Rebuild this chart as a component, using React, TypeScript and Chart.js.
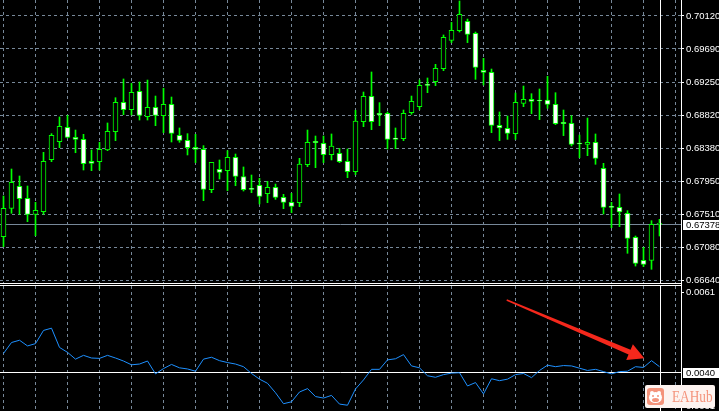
import React, { useEffect, useRef } from "react";
import { Chart, registerables } from "chart.js";

Chart.register(...registerables);

// ---------- Candles (one entry per bar) ----------
const openP = [
  0.67211, 0.67585, 0.67875, 0.67716, 0.67506, 0.67541, 0.68226, 0.68463, 0.68652, 0.68521,
  0.68494, 0.68204, 0.68200, 0.68354, 0.68595, 0.68982, 0.68885, 0.69127, 0.68793, 0.68916,
  0.68806, 0.68956, 0.68547, 0.68481, 0.68389, 0.68362, 0.67831, 0.68099, 0.68081, 0.68257,
  0.68002, 0.67835, 0.67888, 0.67778, 0.67862, 0.67730, 0.67664, 0.67659, 0.68160, 0.68468,
  0.68442, 0.68292, 0.68310, 0.68204, 0.68068, 0.68727, 0.69061, 0.68837, 0.68837, 0.68512,
  0.68503, 0.68846, 0.68925, 0.69206, 0.69254, 0.69426, 0.69799, 0.69927, 0.70050, 0.69892,
  0.69404, 0.69377, 0.68679, 0.68639, 0.68569, 0.68969, 0.69021, 0.69000, 0.69013, 0.68956,
  0.68718, 0.68705, 0.68433, 0.68428, 0.68455, 0.68112, 0.67598, 0.67598, 0.67519, 0.67202,
  0.66899, 0.66899, 0.67374,
];
const highP = [
  0.67747, 0.68103, 0.68011, 0.67879, 0.67664, 0.68323, 0.68569, 0.68789, 0.68811, 0.68617,
  0.68560, 0.68354, 0.68455, 0.68710, 0.69043, 0.69290, 0.69232, 0.69250, 0.69276, 0.69065,
  0.69167, 0.69052, 0.68644, 0.68569, 0.68560, 0.68411, 0.68191, 0.68222, 0.68345, 0.68301,
  0.68130, 0.68024, 0.67980, 0.67941, 0.67905, 0.67769, 0.67782, 0.68244, 0.68617, 0.68538,
  0.68538, 0.68565, 0.68376, 0.68367, 0.68877, 0.69118, 0.69382, 0.68978, 0.68855, 0.68644,
  0.68881, 0.69065, 0.69276, 0.69303, 0.69483, 0.69870, 0.70036, 0.70318, 0.70080, 0.69909,
  0.69562, 0.69421, 0.68855, 0.68802, 0.69105, 0.69197, 0.69096, 0.69158, 0.69325, 0.69109,
  0.68881, 0.68806, 0.68551, 0.68775, 0.68565, 0.68178, 0.67664, 0.67774, 0.67554, 0.67220,
  0.67071, 0.67422, 0.67440,
];
const lowP = [
  0.67079, 0.67519, 0.67506, 0.67409, 0.67224, 0.67506, 0.68200, 0.68384, 0.68512, 0.68318,
  0.68090, 0.68081, 0.68090, 0.68345, 0.68477, 0.68819, 0.68815, 0.68749, 0.68749, 0.68674,
  0.68582, 0.68459, 0.68455, 0.68288, 0.68187, 0.67686, 0.67791, 0.67971, 0.67818, 0.67883,
  0.67813, 0.67791, 0.67642, 0.67659, 0.67703, 0.67580, 0.67528, 0.67607, 0.68134, 0.68121,
  0.68187, 0.68222, 0.68187, 0.67989, 0.68028, 0.68661, 0.68622, 0.68674, 0.68367, 0.68371,
  0.68477, 0.68824, 0.68890, 0.69109, 0.69202, 0.69399, 0.69769, 0.69909, 0.69769, 0.69285,
  0.69210, 0.68582, 0.68477, 0.68494, 0.68494, 0.68925, 0.68833, 0.68754, 0.68903, 0.68688,
  0.68543, 0.68406, 0.68252, 0.68279, 0.68165, 0.67510, 0.67330, 0.67343, 0.66992, 0.66824,
  0.66816, 0.66781, 0.67220,
];
const closeP = [
  0.67585, 0.67927, 0.67712, 0.67506, 0.67558, 0.68204, 0.68547, 0.68666, 0.68521, 0.68494,
  0.68173, 0.68178, 0.68362, 0.68600, 0.68982, 0.68885, 0.69114, 0.68811, 0.68916, 0.68811,
  0.68956, 0.68573, 0.68481, 0.68384, 0.68362, 0.67835, 0.68191, 0.68059, 0.68257, 0.68006,
  0.67831, 0.67835, 0.67743, 0.67862, 0.67730, 0.67664, 0.67611, 0.68169, 0.68455, 0.68450,
  0.68292, 0.68406, 0.68200, 0.68068, 0.68736, 0.69061, 0.68727, 0.68815, 0.68494, 0.68494,
  0.68837, 0.68995, 0.69206, 0.69206, 0.69430, 0.69839, 0.69931, 0.70142, 0.69878, 0.69443,
  0.69377, 0.68679, 0.68644, 0.68573, 0.68982, 0.69021, 0.68995, 0.69000, 0.68956, 0.68701,
  0.68701, 0.68428, 0.68433, 0.68455, 0.68244, 0.67598, 0.67598, 0.67536, 0.67189, 0.66860,
  0.66846, 0.67374, 0.67378,
];

// ---------- Indicator sub-window ----------
const indicator = [
  0.00449, 0.00478, 0.00484, 0.00469, 0.00475, 0.00510, 0.00516, 0.00465, 0.00452, 0.00434,
  0.00444, 0.00437, 0.00436, 0.00444, 0.00437, 0.00429, 0.00419, 0.00421, 0.00429, 0.00395,
  0.00409, 0.00420, 0.00411, 0.00408, 0.00402, 0.00434, 0.00439, 0.00430, 0.00425, 0.00421,
  0.00414, 0.00396, 0.00381, 0.00370, 0.00345, 0.00316, 0.00321, 0.00347, 0.00356, 0.00335,
  0.00331, 0.00338, 0.00315, 0.00312, 0.00355, 0.00379, 0.00407, 0.00407, 0.00432, 0.00435,
  0.00446, 0.00416, 0.00411, 0.00390, 0.00386, 0.00393, 0.00397, 0.00398, 0.00363, 0.00372,
  0.00342, 0.00382, 0.00377, 0.00381, 0.00393, 0.00396, 0.00385, 0.00404, 0.00418, 0.00414,
  0.00417, 0.00416, 0.00410, 0.00404, 0.00407, 0.00401, 0.00395, 0.00401, 0.00402, 0.00414,
  0.00412, 0.00430, 0.00414,
];

// ---------- Axes / ticks ----------
const priceTickValues = [0.7012, 0.69685, 0.6925, 0.68815, 0.6838, 0.67945, 0.6751, 0.67075, 0.6664];
const priceTickLabels = ["0.70120", "0.69690", "0.69250", "0.68820", "0.68380", "0.67950", "0.67510", "0.67080", "0.66640"];
const indTickValues = [0.0061, 0.0031];
const indTickLabels = ["0.0061", "0.0031"];
const gridBars = [0, 4, 8, 12, 16, 20, 24, 28, 32, 36, 40, 44, 48, 52, 56, 60, 64, 68, 72, 76, 80, 84];

const bidPrice = 0.67378;
const bidLabel = "0.67378";
const levelValue = 0.004;
const levelLabel = "0.0040";
const markerBar = 82.1;
const arrowTail = [62.9, 0.005905];
const arrowTip = [80.1, 0.004362];

const X_MIN = -0.4375;
const X_MAX = 84.6875;
const PRICE_MIN = 0.665873;
const PRICE_MAX = 0.703309;
const IND_MIN = 0.002967;
const IND_MAX = 0.006276;

const GRID_COLOR = "#778899";
const GREEN = "#00ff00";
const FONT_FAMILY = '"Liberation Sans", Arial, sans-serif';
const LABEL_SIZE = 9.5;

function xAxis(): any {
  return {
    type: "linear",
    position: "bottom",
    min: X_MIN,
    max: X_MAX,
    offset: false,
    afterBuildTicks: (s: any) => {
      s.ticks = gridBars.map((v) => ({ value: v }));
    },
    afterFit: (s: any) => {
      s.height = 0;
      s.paddingLeft = 0;
      s.paddingRight = 0;
    },
    ticks: { display: false },
    grid: { color: GRID_COLOR, lineWidth: 1, drawTicks: false, offset: false },
    border: { display: false, dash: [3, 3] },
  };
}

function yAxis(min: number, max: number, values: number[], labels: string[], onArea: boolean): any {
  return {
    type: "linear",
    position: "right",
    min,
    max,
    beginAtZero: false,
    afterBuildTicks: (s: any) => {
      s.ticks = values.map((v) => ({ value: v }));
    },
    afterFit: (s: any) => {
      s.width = 38;
      s.paddingTop = 0;
      s.paddingBottom = 0;
    },
    ticks: {
      color: "#ffffff",
      font: { family: FONT_FAMILY, size: LABEL_SIZE },
      padding: 2,
      autoSkip: false,
      crossAlign: "near",
      callback: (_v: any, i: number) => labels[i],
    },
    grid: {
      color: GRID_COLOR,
      lineWidth: 1,
      drawOnChartArea: onArea,
      drawTicks: true,
      tickLength: 3,
      tickColor: "#ffffff",
      tickBorderDash: [],
    },
    border: { display: false, dash: [3, 3] },
  };
}

function drawValueBox(chart: any, value: number, text: string) {
  const { ctx, chartArea } = chart;
  const y = Math.round(chart.scales.y.getPixelForValue(value));
  ctx.save();
  ctx.fillStyle = "#ffffff";
  ctx.fillRect(chartArea.right + 2, y - 4, chart.width - chartArea.right - 2, 10);
  ctx.fillStyle = "#000000";
  ctx.font = `${LABEL_SIZE}px ${FONT_FAMILY}`;
  ctx.textBaseline = "middle";
  ctx.textAlign = "left";
  ctx.fillText(text, chartArea.right + 5, y + 1);
  ctx.restore();
}

function drawMarker(chart: any) {
  const { ctx, chartArea } = chart;
  const x = Math.floor(chart.scales.x.getPixelForValue(markerBar)) + 0.5;
  ctx.save();
  ctx.strokeStyle = "#ffffff";
  ctx.lineWidth = 1;
  ctx.beginPath();
  ctx.moveTo(x, chartArea.top);
  ctx.lineTo(x, chartArea.bottom);
  ctx.stroke();
  ctx.restore();
}

function hLine(chart: any, value: number, color: string) {
  const { ctx, chartArea } = chart;
  const y = Math.round(chart.scales.y.getPixelForValue(value)) + 0.5;
  ctx.save();
  ctx.strokeStyle = color;
  ctx.lineWidth = 1;
  ctx.beginPath();
  ctx.moveTo(chartArea.left, y);
  ctx.lineTo(chartArea.right, y);
  ctx.stroke();
  ctx.restore();
}

const mainDecor = {
  id: "mainDecor",
  beforeDatasetsDraw(chart: any) {
    hLine(chart, bidPrice, GRID_COLOR);
  },
  afterDatasetsDraw(chart: any) {
    drawMarker(chart);
  },
  afterDraw(chart: any) {
    drawValueBox(chart, bidPrice, bidLabel);
  },
};

const subDecor = {
  id: "subDecor",
  beforeDatasetsDraw(chart: any) {
    hLine(chart, levelValue, "#ffffff");
  },
  afterDatasetsDraw(chart: any) {
    drawMarker(chart);
  },
  afterDraw(chart: any) {
    drawValueBox(chart, levelValue, levelLabel);
    const { ctx } = chart;
    const xs = chart.scales.x;
    const ys = chart.scales.y;
    const x0 = xs.getPixelForValue(arrowTail[0]);
    const y0 = ys.getPixelForValue(arrowTail[1]);
    const x1 = xs.getPixelForValue(arrowTip[0]);
    const y1 = ys.getPixelForValue(arrowTip[1]);
    const len = Math.hypot(x1 - x0, y1 - y0);
    const ux = (x1 - x0) / len;
    const uy = (y1 - y0) / len;
    const nx = -uy;
    const ny = ux;
    const headLen = 16;
    const headHalf = 8.5;
    const shaftEnd = 2.6;
    const shaftStart = 0.7;
    const bx = x1 - ux * headLen;
    const by = y1 - uy * headLen;
    ctx.save();
    ctx.fillStyle = "#f5281c";
    ctx.beginPath();
    ctx.moveTo(x0 + nx * shaftStart, y0 + ny * shaftStart);
    ctx.lineTo(bx + nx * shaftEnd, by + ny * shaftEnd);
    ctx.lineTo(bx + nx * headHalf, by + ny * headHalf);
    ctx.lineTo(x1, y1);
    ctx.lineTo(bx - nx * headHalf, by - ny * headHalf);
    ctx.lineTo(bx - nx * shaftEnd, by - ny * shaftEnd);
    ctx.lineTo(x0 - nx * shaftStart, y0 - ny * shaftStart);
    ctx.closePath();
    ctx.fill();
    ctx.restore();
  },
};

export default function App() {
  const mainRef = useRef<HTMLCanvasElement>(null);
  const subRef = useRef<HTMLCanvasElement>(null);

  useEffect(() => {
    const bodyColors = openP.map((o, i) => (closeP[i] > o ? "#000000" : "#ffffff"));
    const main = new Chart(mainRef.current as HTMLCanvasElement, {
      type: "bar",
      data: {
        datasets: [
          {
            label: "body",
            data: openP.map((o, i) => ({ x: i, y: [o, closeP[i]] })) as any,
            backgroundColor: bodyColors,
            borderColor: GREEN,
            borderWidth: 1,
            borderSkipped: false,
            barThickness: 5,
            grouped: false,
            minBarLength: 1,
          } as any,
          {
            label: "wick",
            data: lowP.map((l, i) => ({ x: i, y: [l, highP[i]] })) as any,
            backgroundColor: GREEN,
            borderWidth: 0,
            barThickness: 1,
            grouped: false,
          } as any,
        ],
      },
      options: {
        responsive: false,
        animation: false,
        devicePixelRatio: 1,
        events: [],
        layout: { padding: 0 },
        plugins: { legend: { display: false }, tooltip: { enabled: false } },
        scales: {
          x: xAxis(),
          y: yAxis(PRICE_MIN, PRICE_MAX, priceTickValues, priceTickLabels, true),
        },
      } as any,
      plugins: [mainDecor],
    });

    const sub = new Chart(subRef.current as HTMLCanvasElement, {
      type: "line",
      data: {
        datasets: [
          {
            label: "indicator",
            data: indicator.map((v, i) => ({ x: i, y: v })) as any,
            borderColor: "#1e90ff",
            borderWidth: 1,
            pointRadius: 0,
            tension: 0,
            fill: false,
          } as any,
        ],
      },
      options: {
        responsive: false,
        animation: false,
        devicePixelRatio: 1,
        events: [],
        layout: { padding: 0 },
        plugins: { legend: { display: false }, tooltip: { enabled: false } },
        scales: {
          x: xAxis(),
          y: yAxis(IND_MIN, IND_MAX, indTickValues, indTickLabels, false),
        },
      } as any,
      plugins: [subDecor],
    });

    return () => {
      main.destroy();
      sub.destroy();
    };
  }, []);

  const line = (style: React.CSSProperties) => (
    <div style={{ position: "absolute", background: "#ffffff", ...style }} />
  );

  const SALMON = "#f4937b";

  return (
    <div
      style={{
        position: "fixed",
        left: 0,
        top: 0,
        width: 719,
        height: 411,
        background: "#000000",
        overflow: "hidden",
      }}
    >
      <canvas ref={mainRef} width={719} height={284} style={{ position: "absolute", left: 0, top: 0 }} />
      <canvas ref={subRef} width={719} height={125} style={{ position: "absolute", left: 0, top: 286 }} />
      {line({ left: 0, top: 283, width: 682, height: 1 })}
      {line({ left: 0, top: 285, width: 682, height: 1 })}
      {line({ left: 681, top: 0, width: 1, height: 411 })}
      <div
        style={{
          position: "absolute",
          left: 645,
          top: 385,
          width: 70,
          height: 23,
          background: "#fdf3f0",
          borderRadius: 2,
          overflow: "hidden",
        }}
      >
        <div style={{ position: "absolute", left: 2, top: 3, width: 17, height: 17, borderRadius: 3, background: SALMON }} />
        <div style={{ position: "absolute", left: 5, top: 6, width: 4, height: 4, borderRadius: "50%", background: "#fff" }} />
        <div style={{ position: "absolute", left: 12, top: 6, width: 4, height: 4, borderRadius: "50%", background: "#fff" }} />
        <div style={{ position: "absolute", left: 4, top: 7, width: 13, height: 11, borderRadius: "50%", background: "#fff" }} />
        <div style={{ position: "absolute", left: 7, top: 13, width: 7, height: 4, borderRadius: "50%", background: SALMON }} />
        <div style={{ position: "absolute", left: 7, top: 10, width: 2, height: 2, borderRadius: "50%", background: SALMON }} />
        <div style={{ position: "absolute", left: 12, top: 10, width: 2, height: 2, borderRadius: "50%", background: SALMON }} />
        <span
          style={{
            position: "absolute",
            left: 27,
            top: 0,
            lineHeight: "23px",
            fontFamily: '"Liberation Serif", "DejaVu Serif", serif',
            fontWeight: "normal",
            fontSize: 17,
            color: SALMON,
            whiteSpace: "nowrap",
            transform: "scaleX(0.78)",
            transformOrigin: "left center",
          }}
        >
          EAHub
        </span>
      </div>
    </div>
  );
}
